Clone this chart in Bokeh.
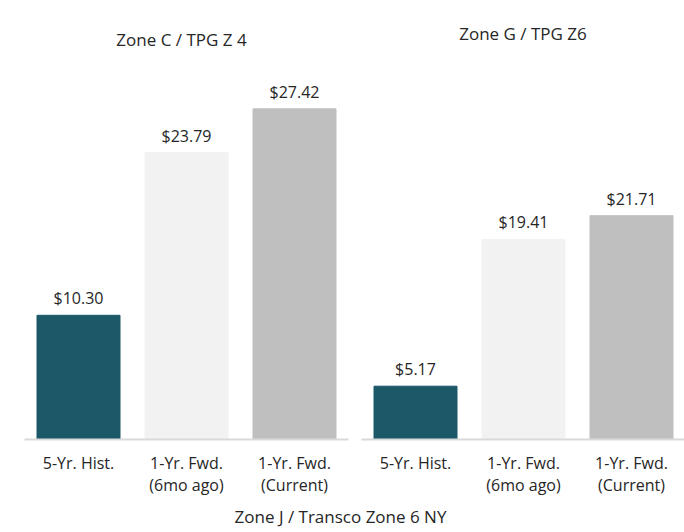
from bokeh.plotting import figure
from bokeh.models import Range1d, FixedTicker, LabelSet, Label, ColumnDataSource
from bokeh.layouts import row, column
from bokeh.core.properties import value
from bokeh.embed import file_html
from bokeh.resources import INLINE

# ---- data ----
categories = ["5-Yr. Hist.", "1-Yr. Fwd.\n(6mo ago)", "1-Yr. Fwd.\n(Current)"]
zone_c_values = [10.30, 23.79, 27.42]
zone_g_values = [5.17, 19.41, 21.71]
panel_titles = ["Zone C / TPG Z 4", "Zone G / TPG Z6"]
footer_title = "Zone J / Transco Zone 6 NY"
bar_colors = ["#1B5868", "#F2F2F2", "#BFBFBF"]

FONT = "Open Sans"
TXT = "#262626"
FS = "16px"
FS_T = "17px"
CAT_PX = 108.0
FIG_H = 504
TOP = 20
BASE = 439


def panel(values, title, width, b_left, b_right, frame_w, px_per_unit,
          title_cx, title_base):
    frame_h = BASE - TOP
    ymax = frame_h / px_per_unit
    x_end = -0.5 + frame_w / CAT_PX
    p = figure(width=width, height=FIG_H, output_backend="svg", toolbar_location=None,
               x_range=Range1d(-0.5, x_end), y_range=Range1d(0, ymax),
               min_border_left=b_left, min_border_right=b_right,
               min_border_top=TOP, min_border_bottom=FIG_H - BASE,
               y_axis_location=None, tools="", title=None)
    p.outline_line_color = None
    p.grid.visible = False
    xs = list(range(len(values)))
    src = ColumnDataSource(dict(x=xs, top=values, color=bar_colors,
                                label=["$%.2f" % v for v in values]))
    p.vbar(x="x", top="top", width=83 / CAT_PX, color="color", source=src)
    p.add_layout(LabelSet(x="x", y="top", text="label", source=src, y_offset=11,
                          text_align="center", text_baseline="alphabetic",
                          text_font=value(FONT), text_font_size=value(FS),
                          text_color=TXT))
    ax = p.xaxis[0]
    ax.ticker = FixedTicker(ticks=xs)
    ax.major_label_overrides = {i: c for i, c in enumerate(categories)}
    ax.major_tick_line_color = None
    ax.minor_tick_line_color = None
    ax.axis_line_color = "#D9D9D9"
    ax.axis_line_width = 2
    ax.major_label_text_font = FONT
    ax.major_label_text_font_size = FS
    ax.major_label_text_color = TXT
    ax.major_label_text_line_height = 1.0
    ax.major_label_standoff = 6
    # title
    p.add_layout(Label(x=(title_cx) / CAT_PX - 0.5,
                       y=(BASE - title_base) / px_per_unit,
                       text=title, text_align="center", text_baseline="alphabetic",
                       text_font=FONT, text_font_size=FS_T, text_color=TXT))
    return p


p1 = panel(zone_c_values, panel_titles[0], 355, 24, 7, 324, 12.06, 181 - 24, 39)
p2 = panel(zone_g_values, panel_titles[1], 329, 6, 0, 323, 10.31, 522.5 - 361, 33)

foot = figure(width=684, height=26, output_backend="svg", toolbar_location=None,
              x_range=Range1d(0, 684), y_range=Range1d(0, 26),
              min_border=0, x_axis_location=None, y_axis_location=None, tools="",
              title=None)
foot.outline_line_color = None
foot.grid.visible = False
foot.add_layout(Label(x=340, y=14, text=footer_title, text_align="center",
                      text_baseline="alphabetic", text_font=FONT,
                      text_font_size=FS_T, text_color=TXT))

layout = column(row(p1, p2), foot)
open("out.html", "w").write(file_html(layout, INLINE))
